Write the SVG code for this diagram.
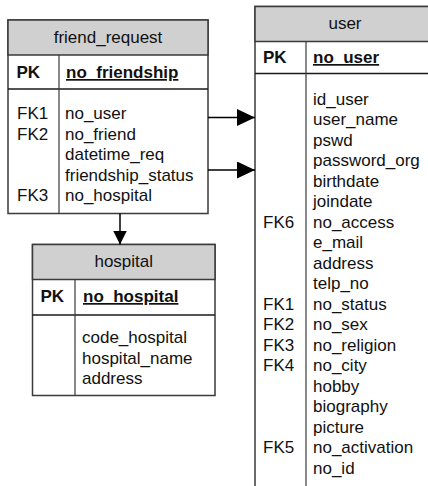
<svg xmlns="http://www.w3.org/2000/svg" width="428" height="486" viewBox="0 0 428 486">
  <style>
    .box { fill: #ffffff; stroke: #3a3a3a; stroke-width: 1.5; }
    .head { fill: #d0d0d0; stroke: #3a3a3a; stroke-width: 1.5; }
    .sep { stroke: #1a1a1a; stroke-width: 1.5; }
    .div { stroke: #3a3a3a; stroke-width: 1.2; }
    text { font-family: "Liberation Sans", Arial, sans-serif; font-size: 17px; fill: #111; }
    .title { text-anchor: middle; }
    .pk { font-weight: bold; }
    .key { font-weight: bold; text-decoration: underline; }
    .conn { stroke: #000; stroke-width: 1.5; fill: none; }
  </style>
  <defs>
    <marker id="arrow-h" viewBox="0 0 18 17" refX="18" refY="8.5" markerWidth="18" markerHeight="17" markerUnits="userSpaceOnUse" orient="auto">
      <path d="M0,0 L18,8.5 L0,17 Z" fill="#000"/>
    </marker>
    <marker id="arrow-v" viewBox="0 0 14 14" refX="14" refY="7" markerWidth="14" markerHeight="14" markerUnits="userSpaceOnUse" orient="auto">
      <path d="M0,0 L14,7 L0,14 Z" fill="#000"/>
    </marker>
  </defs>

  <!-- friend_request table -->
  <g id="friend_request">
    <rect class="box" x="8" y="20" width="200" height="193.5"/>
    <rect class="head" x="8" y="20" width="200" height="35"/>
    <line class="sep" x1="8" y1="89" x2="208" y2="89"/>
    <line class="div" x1="59" y1="55" x2="59" y2="213.5"/>
    <text class="title" x="108" y="43">friend_request</text>
    <text class="pk" x="16.5" y="78">PK</text>
    <text class="key" x="66" y="78">no_friendship</text>
    <text x="17" y="119">FK1</text>
    <text x="65" y="119">no_user</text>
    <text x="17" y="139.5">FK2</text>
    <text x="65" y="139.5">no_friend</text>
    <text x="65" y="160">datetime_req</text>
    <text x="65" y="180.5">friendship_status</text>
    <text x="17" y="201">FK3</text>
    <text x="65" y="201">no_hospital</text>
  </g>

  <!-- hospital table -->
  <g id="hospital">
    <rect class="box" x="32.5" y="244.5" width="182.5" height="151"/>
    <rect class="head" x="32.5" y="244.5" width="182.5" height="35"/>
    <line class="sep" x1="32.5" y1="315" x2="215" y2="315"/>
    <line class="div" x1="75" y1="279.5" x2="75" y2="395.5"/>
    <text class="title" x="123.75" y="267">hospital</text>
    <text class="pk" x="40.5" y="302">PK</text>
    <text class="key" x="83" y="302">no_hospital</text>
    <text x="82" y="343">code_hospital</text>
    <text x="82" y="363.5">hospital_name</text>
    <text x="82" y="384">address</text>
  </g>

  <!-- user table -->
  <g id="user">
    <rect class="box" x="255" y="6.5" width="180" height="490"/>
    <rect class="head" x="255" y="6.5" width="180" height="35"/>
    <line class="sep" x1="255" y1="73.5" x2="435" y2="73.5"/>
    <line class="div" x1="306" y1="41.5" x2="306" y2="496"/>
    <text class="title" x="345" y="29">user</text>
    <text class="pk" x="263" y="63">PK</text>
    <text class="key" x="313" y="63">no_user</text>
    <text x="313" y="104.5">id_user</text>
    <text x="313" y="125">user_name</text>
    <text x="313" y="145.5">pswd</text>
    <text x="313" y="166">password_org</text>
    <text x="313" y="186.5">birthdate</text>
    <text x="313" y="207">joindate</text>
    <text x="263" y="227.5">FK6</text>
    <text x="313" y="227.5">no_access</text>
    <text x="313" y="248">e_mail</text>
    <text x="313" y="268.5">address</text>
    <text x="313" y="289">telp_no</text>
    <text x="263" y="309.5">FK1</text>
    <text x="313" y="309.5">no_status</text>
    <text x="263" y="330">FK2</text>
    <text x="313" y="330">no_sex</text>
    <text x="263" y="350.5">FK3</text>
    <text x="313" y="350.5">no_religion</text>
    <text x="263" y="371">FK4</text>
    <text x="313" y="371">no_city</text>
    <text x="313" y="391.5">hobby</text>
    <text x="313" y="412">biography</text>
    <text x="313" y="432.5">picture</text>
    <text x="263" y="453">FK5</text>
    <text x="313" y="453">no_activation</text>
    <text x="313" y="473.5">no_id</text>
  </g>

  <!-- relationships -->
  <g id="connectors">
    <line class="conn" x1="208" y1="117.5" x2="255" y2="117.5" marker-end="url(#arrow-h)"/>
    <line class="conn" x1="208" y1="170" x2="255" y2="170" marker-end="url(#arrow-h)"/>
    <line class="conn" x1="120" y1="213.5" x2="120" y2="244.5" marker-end="url(#arrow-v)"/>
  </g>
</svg>
